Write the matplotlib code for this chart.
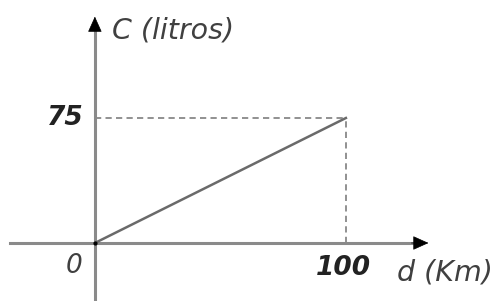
import matplotlib
matplotlib.use("Agg")
import matplotlib.pyplot as plt

# data: linear consumption C = 0.75 d
d_vals = [0, 100]
c_vals = [0, 75]
x_label = "d (Km)"
y_label = "C (litros)"

AXIS = "#8a8a8a"
TEXT = "#404040"
NUM = "#222222"

fig = plt.figure(figsize=(4.96, 3.01), dpi=100)
ax = fig.add_axes([0, 0, 1, 1])
ax.set_xlim(-37.8, 159.8)
ax.set_ylim(-34.8, 145.8)
ax.axis("off")

# axes with arrows
ax.plot([-34, 128], [0, 0], color=AXIS, lw=2.2, zorder=2)
ax.plot([0, 0], [-35, 130], color=AXIS, lw=2.2, zorder=2)
ax.annotate("", xy=(134, 0), xytext=(125, 0),
            arrowprops=dict(arrowstyle="-|>,head_length=1.0,head_width=0.45",
                            color="black", lw=0.5))
ax.annotate("", xy=(0, 137.5), xytext=(0, 126),
            arrowprops=dict(arrowstyle="-|>,head_length=1.0,head_width=0.45",
                            color="black", lw=0.5))

# the line
ax.plot(d_vals, c_vals, color="#6a6a6a", lw=1.8, zorder=3)
ax.plot(0, 0, "o", color="black", ms=2, zorder=4)

# dashed guides
ax.plot([0, d_vals[1]], [c_vals[1], c_vals[1]], color="#909090", lw=1.4,
        ls=(0, (3.2, 2.2)), zorder=1)
ax.plot([d_vals[1], d_vals[1]], [0, c_vals[1]], color="#909090", lw=1.4,
        ls=(0, (3.2, 2.2)), zorder=1)

# labels
ax.text(6.8, 127.5, y_label, fontsize=20.5, style="italic", color=TEXT,
        va="center", ha="left")
ax.text(120.5, -17.5, x_label, fontsize=20.5, style="italic", color=TEXT,
        va="center", ha="left")
ax.text(-4.5, c_vals[1], str(c_vals[1]), fontsize=19, style="italic",
        fontweight="bold", color=NUM, va="center", ha="right")
ax.text(d_vals[1] - 1, -15, str(d_vals[1]), fontsize=19, style="italic",
        fontweight="bold", color=NUM, va="center", ha="center")
ax.text(-5, -14, "0", fontsize=19, style="italic", color=TEXT,
        va="center", ha="right")

fig.savefig("out.png", dpi=100)
